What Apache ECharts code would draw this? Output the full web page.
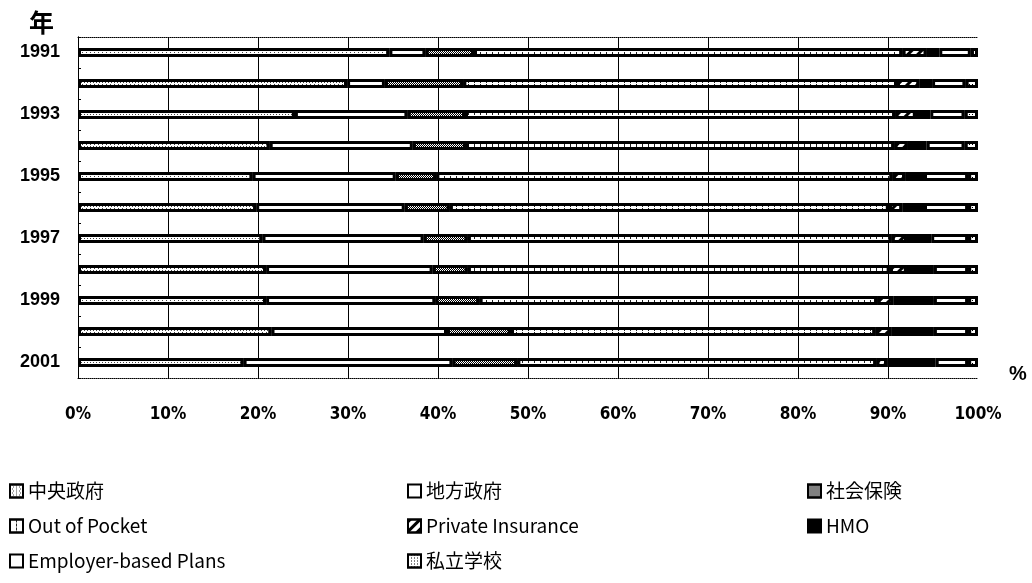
<!DOCTYPE html>
<html>
<head>
<meta charset="utf-8">
<title>医療費負担の構成比</title>
<script src="https://cdn.jsdelivr.net/npm/echarts@6/dist/echarts.min.js"></script>
<style>
  html, body { margin: 0; padding: 0; background: #fff; }
  #chart { width: 1032px; height: 583px; }
</style>
</head>
<body>
<div id="chart"></div>
<script>
// Years (top to bottom) and share of spending by payer, in percent
const years = ['1991', '1992', '1993', '1994', '1995', '1996', '1997', '1998', '1999', '2000', '2001'];
const seriesNames = ['中央政府', '地方政府', '社会保険', 'Out of Pocket', 'Private Insurance', 'HMO', 'Employer-based Plans', '私立学校'];
const centralGov    = [34.6, 29.9, 24.1, 21.3, 19.4, 19.8, 20.5, 20.9, 20.9, 21.5, 18.4];
const localGov      = [4.0, 4.2, 12.5, 15.9, 15.9, 16.5, 17.9, 18.5, 18.8, 19.5, 23.2];
const socialIns     = [5.4, 8.7, 6.4, 5.9, 4.5, 5.0, 4.9, 3.9, 4.9, 7.1, 7.2];
const outOfPocket   = [47.6, 48.2, 47.8, 47.6, 50.7, 48.8, 47.1, 46.9, 44.2, 40.5, 39.9];
const privateIns    = [2.7, 2.5, 2.3, 1.5, 1.4, 1.5, 1.7, 1.9, 1.8, 1.8, 1.2];
const hmo           = [1.4, 1.4, 1.6, 2.1, 2.1, 2.4, 2.7, 3.0, 4.5, 4.7, 5.4];
const employer      = [3.5, 3.7, 3.8, 4.2, 4.9, 4.9, 4.1, 3.8, 3.8, 3.8, 3.6];
const privateSchool = [0.8, 1.4, 1.5, 1.5, 1.1, 1.1, 1.1, 1.1, 1.1, 1.1, 1.1];
const xTicks = [0, 10, 20, 30, 40, 50, 60, 70, 80, 90, 100];

const values = [centralGov, localGov, socialIns, outOfPocket, privateIns, hmo, employer, privateSchool];

// Monochrome fills: base colour plus an optional decal texture
const fills = [
  { color: '#fff', decal: { symbol: 'rect', symbolSize: 1, dashArrayX: [[1, 1.5], [0, 1.2, 1, 0.3]], dashArrayY: [1, 1], color: '#444' } },
  { color: '#fff', decal: null },
  { color: '#fff', decal: { symbol: 'rect', symbolSize: 1, dashArrayX: [[1, 1], [0, 1, 1, 0]], dashArrayY: [1, 0], color: '#000' } },
  { color: '#fff', decal: { symbol: 'rect', symbolSize: 1, dashArrayX: [1, 5], dashArrayY: [3, 1], color: '#222' } },
  { color: '#fff', decal: { symbol: 'rect', symbolSize: 1, dashArrayX: [1, 0], dashArrayY: [3, 4], rotation: -Math.PI / 4, color: '#000' } },
  { color: '#000', decal: null },
  { color: '#fff', decal: null },
  { color: '#fff', decal: { symbol: 'rect', symbolSize: 1, dashArrayX: [1, 2], dashArrayY: [1, 2], color: '#000' } }
];

const numFont = '"Liberation Sans Narrow", "DejaVu Sans Condensed", "Liberation Sans", sans-serif';
const labelFont = '"Liberation Sans", Arial, sans-serif';
const cjkFont = '"Noto Sans CJK JP", "Noto Sans", sans-serif';

const series = seriesNames.map((name, i) => {
  const itemStyle = { color: fills[i].color, borderColor: '#000', borderWidth: 3 };
  if (fills[i].decal) itemStyle.decal = fills[i].decal;
  return {
    name: name,
    type: 'bar',
    stack: 'total',
    barWidth: 9,
    xAxisIndex: 0,
    yAxisIndex: 0,
    data: values[i],
    itemStyle: itemStyle,
    emphasis: { disabled: true }
  };
});

function legendColumn(names, left) {
  return {
    data: names,
    orient: 'vertical',
    left: left,
    top: 476,
    itemWidth: 13,
    itemHeight: 13,
    itemGap: 15,
    icon: 'rect',
    selectedMode: false,
    itemStyle: { borderWidth: 2, borderColor: '#000' },
    textStyle: { fontFamily: cjkFont, fontSize: 19, lineHeight: 20, color: '#000' }
  };
}

// Split line colours: hide the ones at 0% and 100% so the frame shows through
const splitColors = xTicks.map(v => (v === 0 || v === 100) ? 'rgba(0,0,0,0)' : '#000');

const option = {
  animation: false,
  backgroundColor: '#fff',
  title: [
    { text: '年', left: 24, top: 5, textStyle: { fontFamily: cjkFont, fontSize: 25, fontWeight: 'bold', color: '#000' } },
    { text: '%', left: 1004, top: 359, textStyle: { fontFamily: labelFont, fontSize: 20, fontWeight: 'bold', color: '#000' } }
  ],
  grid: { left: 78, right: 54, top: 37, bottom: 205, containLabel: false },
  xAxis: [
    {
      type: 'value', min: 0, max: 100, interval: 10, position: 'bottom',
      axisLine: { show: true, lineStyle: { color: '#000', width: 1, type: 'dotted' } },
      axisTick: { show: false },
      axisLabel: { formatter: '{value}%', margin: 28, fontFamily: numFont, fontWeight: 'bold', fontSize: 17, color: '#000' },
      splitLine: { show: true, lineStyle: { color: splitColors, width: 1 } }
    },
    {
      type: 'value', min: 0, max: 100, interval: 10, position: 'top',
      axisLine: { show: true, lineStyle: { color: '#000', width: 1, type: 'dotted' } },
      axisTick: { show: false }, axisLabel: { show: false }, splitLine: { show: false }
    }
  ],
  yAxis: [
    {
      type: 'category', data: years, inverse: true, position: 'left',
      axisLine: { show: true, lineStyle: { color: '#000', width: 1 } },
      axisTick: { show: true, inside: true, length: 3, interval: 0, lineStyle: { color: '#000' } },
      axisLabel: { interval: 1, margin: 18, fontFamily: labelFont, fontWeight: 'bold', fontSize: 18, color: '#000' },
      splitLine: { show: false }
    },
    {
      type: 'category', data: years, inverse: true, position: 'right',
      axisLine: { show: true, lineStyle: { color: '#000', width: 1, type: 'dotted' } },
      axisTick: { show: false }, axisLabel: { show: false }, splitLine: { show: false }
    }
  ],
  legend: [
    legendColumn([seriesNames[0], seriesNames[3], seriesNames[6]], 4),
    legendColumn([seriesNames[1], seriesNames[4], seriesNames[7]], 402),
    legendColumn([seriesNames[2], seriesNames[5]], 802)
  ],
  series: series
};

const chart = echarts.init(document.getElementById('chart'), null, { renderer: 'canvas' });
chart.setOption(option);
</script>
</body>
</html>
